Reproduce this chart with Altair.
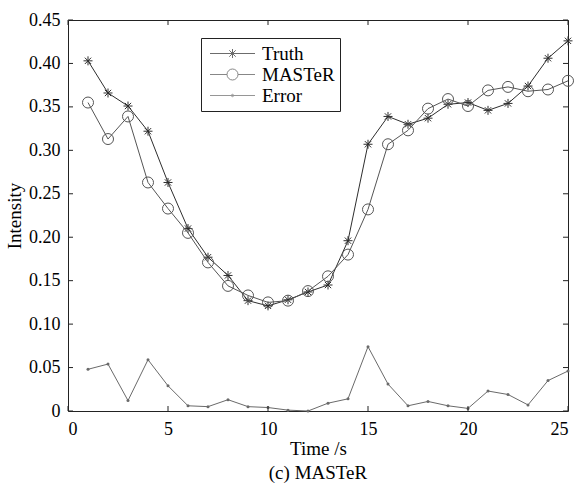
import altair as alt
import pandas as pd

# Sample times (s) and intensities of the three series
time_s = list(range(1, 26))
truth = [0.403, 0.366, 0.351, 0.322, 0.263, 0.210, 0.177, 0.156, 0.127, 0.121,
         0.128, 0.137, 0.145, 0.196, 0.307, 0.339, 0.330, 0.337, 0.353, 0.355,
         0.346, 0.354, 0.374, 0.406, 0.426]
master = [0.355, 0.313, 0.339, 0.263, 0.233, 0.205, 0.171, 0.144, 0.133, 0.125,
          0.127, 0.138, 0.155, 0.180, 0.232, 0.307, 0.323, 0.348, 0.359, 0.351,
          0.369, 0.373, 0.368, 0.370, 0.380]
error = [0.048, 0.054, 0.012, 0.059, 0.029, 0.006, 0.005, 0.013, 0.005, 0.004,
         0.001, 0.000, 0.009, 0.014, 0.074, 0.031, 0.006, 0.011, 0.006, 0.003,
         0.023, 0.019, 0.007, 0.035, 0.046]

series_names = ["Truth", "MASTeR", "Error"]
x_ticks = [0, 5, 10, 15, 20, 25]
y_ticks = [0, 0.05, 0.10, 0.15, 0.20, 0.25, 0.30, 0.35, 0.40, 0.45]

W, H = 500, 391
SERIF = "Liberation Serif"
FRAME = "#222222"
COLORS = ["#2e2e2e", "#555555", "#6a6a6a"]
TICK = 5

# marker shapes in the unit box
STAR = "M0,-1V1M-1,0H1M-0.7,-0.7L0.7,0.7M-0.7,0.7L0.7,-0.7"
# legend swatches: a line segment with the marker in its middle (10 px per unit)
LEG_STAR = ("M-2.25,0H2.25M0,-0.45V0.45M-0.45,0H0.45"
            "M-0.32,-0.32L0.32,0.32M-0.32,0.32L0.32,-0.32")
LEG_CIRCLE = ("M-2.25,0H-0.55M0.55,0H2.25"
              "M-0.55,0A0.55,0.55 0 1,0 0.55,0A0.55,0.55 0 1,0 -0.55,0")
LEG_DOT = ("M-2.25,0H2.25M-0.12,0A0.12,0.12 0 1,0 0.12,0"
           "A0.12,0.12 0 1,0 -0.12,0")

df = pd.DataFrame({
    "t": time_s * 3,
    "value": truth + master + error,
    "series": ["Truth"] * 25 + ["MASTeR"] * 25 + ["Error"] * 25,
})
xt = pd.DataFrame({"t": x_ticks})
yt = pd.DataFrame({"value": y_ticks})

x_scale = alt.Scale(domain=[0, 25], nice=False, zero=False)
y_scale = alt.Scale(domain=[0, 0.45], nice=False)

axis_style = dict(
    ticks=False, domain=False, grid=False,
    labelFont=SERIF, labelFontSize=18, labelColor="black",
    titleFont=SERIF, titleFontSize=19, titleFontWeight="normal", titleColor="black",
)
x_axis = alt.Axis(values=x_ticks, title="Time /s", format="d",
                  labelPadding=9, titlePadding=1, **axis_style)
y_axis = alt.Axis(values=y_ticks, title="Intensity", labelPadding=8, titlePadding=4,
                  labelExpr="datum.value == 0 ? '0' : format(datum.value, '.2f')",
                  **axis_style)

X = alt.X("t:Q", scale=x_scale, axis=x_axis)
Y = alt.Y("value:Q", scale=y_scale, axis=y_axis)

base = alt.Chart(df)


def series_layers(name, color, marker):
    sub = base.transform_filter(alt.datum.series == name)
    line = sub.mark_line(color=color, strokeWidth=1).encode(x=X, y=Y)
    pts = sub.mark_point(opacity=1, strokeWidth=1, **marker).encode(x=X, y=Y)
    return [line, pts]


layers = []
layers += series_layers("Truth", COLORS[0],
                        dict(shape=STAR, size=81, filled=False, color=COLORS[0]))
layers += series_layers("MASTeR", COLORS[1],
                        dict(shape="circle", size=121, filled=False, color=COLORS[1]))
layers += series_layers("Error", COLORS[2],
                        dict(shape="circle", size=9, filled=True, color=COLORS[2]))

# legend only: no rows pass the filter, the domains are explicit
layers.append(
    base.transform_filter("false").mark_point(filled=False, strokeWidth=1).encode(
        x=X, y=Y,
        color=alt.Color("series:N",
                        scale=alt.Scale(domain=series_names, range=COLORS),
                        legend=alt.Legend(
                            title=None, orient="none", legendX=133, legendY=18,
                            padding=5, strokeColor=FRAME, fillColor="white",
                            labelFont=SERIF, labelFontSize=19, labelColor="black",
                            symbolSize=400, symbolStrokeWidth=1,
                            symbolOffset=16, labelOffset=19, rowPadding=0)),
        shape=alt.Shape("series:N",
                        scale=alt.Scale(domain=series_names,
                                        range=[LEG_STAR, LEG_CIRCLE, LEG_DOT]),
                        legend=None),
    )
)

# inward tick marks on all four sides
for y0, y1 in [(H, H - TICK), (0, TICK)]:
    layers.append(alt.Chart(xt).mark_rule(color=FRAME, strokeWidth=1).encode(
        x=X, y=alt.value(y0), y2=alt.value(y1)))
for x0, x1 in [(0, TICK), (W, W - TICK)]:
    layers.append(alt.Chart(yt).mark_rule(color=FRAME, strokeWidth=1).encode(
        y=Y, x=alt.value(x0), x2=alt.value(x1)))

chart = alt.layer(*layers).properties(
    width=W, height=H,
    title=alt.TitleParams("(c) MASTeR", orient="bottom", font=SERIF,
                          fontSize=19, fontWeight="normal", color="black",
                          offset=6),
    padding={"left": 68, "top": 20, "right": 9, "bottom": 78},
    autosize=alt.AutoSizeParams(type="none"),
).configure_view(
    stroke=FRAME, strokeWidth=1
)

chart.save("out.html", embed_options={"renderer": "svg", "actions": False})
